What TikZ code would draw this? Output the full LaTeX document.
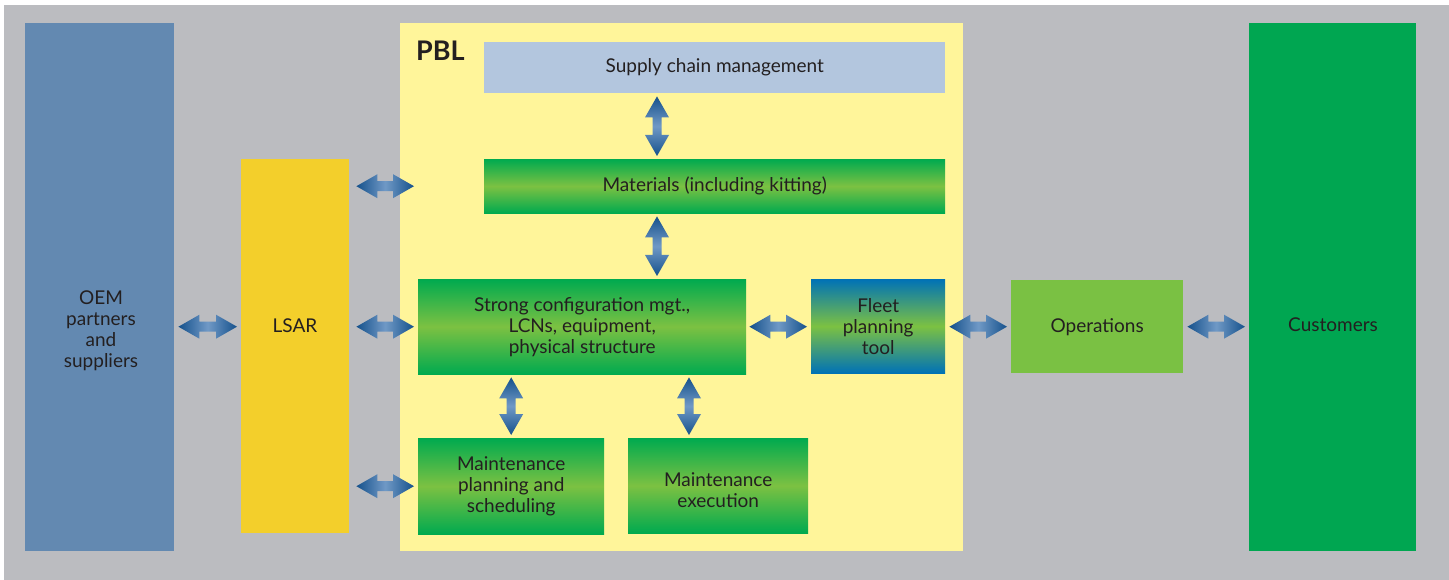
\documentclass[tikz,border=0pt]{standalone}
\usepackage{fontspec}
\setmainfont{Lato}
\usetikzlibrary{calc}
\definecolor{bgc}{HTML}{BBBCC0}
\definecolor{oemc}{HTML}{6389B1}
\definecolor{lsarc}{HTML}{F3CF2B}
\definecolor{pblc}{HTML}{FFF59A}
\definecolor{scmc}{HTML}{B3C6DE}
\definecolor{gdark}{HTML}{00AA4F}
\definecolor{glight}{HTML}{7CC142}
\definecolor{fblue}{HTML}{0072B6}
\definecolor{opsc}{HTML}{7AC143}
\definecolor{custc}{HTML}{00A651}
\definecolor{adark}{HTML}{15518C}
\definecolor{alight}{HTML}{7099C6}
\definecolor{txt}{HTML}{231F20}
\tikzset{
  box/.style={rectangle, inner sep=0pt, anchor=north west, draw=none},
  lbl/.style={inner sep=0pt, align=center, text=txt, font=\fontsize{19}{21}\selectfont},
  greenbox/.style={box, top color=gdark, bottom color=gdark, middle color=glight},
  fleetbox/.style={box, top color=fblue, bottom color=fblue, middle color=glight},
  hshade/.style={left color=adark, right color=adark, middle color=alight},
  vshade/.style={top color=adark, bottom color=adark, middle color=alight},
}
\newcommand\harrow[2]{%
  \path[hshade] let \p1=#1, \p2=#2 in
  (\x1,\y1) -- (\x1+21pt,\y1+12pt) -- (\x1+21pt,\y1+5pt) -- (\x2-21pt,\y1+5pt) -- (\x2-21pt,\y1+12pt)
  -- (\x2,\y1) -- (\x2-21pt,\y1-12pt) -- (\x2-21pt,\y1-5pt) -- (\x1+21pt,\y1-5pt) -- (\x1+21pt,\y1-12pt) -- cycle;}
\newcommand\varrow[2]{%
  \path[vshade] let \p1=#1, \p2=#2 in
  (\x1,\y1) -- (\x1+12pt,\y1-21pt) -- (\x1+4.5pt,\y1-21pt) -- (\x1+4.5pt,\y2+21pt) -- (\x1+12pt,\y2+21pt)
  -- (\x1,\y2) -- (\x1-12pt,\y2+21pt) -- (\x1-4.5pt,\y2+21pt) -- (\x1-4.5pt,\y1-21pt) -- (\x1-12pt,\y1-21pt) -- cycle;}
\begin{document}
\begin{tikzpicture}[x=1pt,y=-1pt]
\useasboundingbox (0,0) rectangle (1449,580);
\fill[white] (0,0) rectangle (1449,580);
\fill[bgc] (4,5) rectangle (1449,580);
% main boxes
\node[box, fill=oemc, minimum width=149pt, minimum height=528pt] (oem) at (25,23) {};
\node[box, fill=lsarc, minimum width=108pt, minimum height=374pt] (lsar) at (241,159) {};
\node[box, fill=pblc, minimum width=563pt, minimum height=528pt] (pbl) at (400,23) {};
\node[box, fill=custc, minimum width=167pt, minimum height=528pt] (cust) at (1249,23) {};
\node[box, fill=scmc, minimum width=461pt, minimum height=51pt] (scm) at (484,42) {};
\node[greenbox, minimum width=461pt, minimum height=54pt] (mat) at (484,159) {};
\node[greenbox, minimum width=328pt, minimum height=95pt] (strong) at (418,279) {};
\node[fleetbox, minimum width=134pt, minimum height=94pt] (fleet) at (811,279) {};
\node[box, fill=opsc, minimum width=172pt, minimum height=93pt] (ops) at (1011,280) {};
\node[greenbox, minimum width=186pt, minimum height=96pt] (mplan) at (418,438) {};
\node[greenbox, minimum width=180pt, minimum height=95pt] (mexec) at (628,438) {};
% labels
\node[lbl, text=txt, font=\bfseries\fontsize{27}{30}\selectfont, anchor=west] (pblt) at (416,51) {PBL};
\node[lbl] (oemt) at (101,331) {OEM\\partners\\and\\suppliers};
\node[lbl] (lsart) at (295,326) {LSAR};
\node[lbl] (custt) at (1333,325) {Customers};
\node[lbl] (scmt) at (scm.center) {Supply chain management};
\node[lbl] (matt) at (mat.center) {Materials (including kitting)};
\node[lbl] (strongt) at (strong.center) {Strong configuration mgt.,\\LCNs, equipment,\\physical structure};
\node[lbl] (fleett) at (fleet.center) {Fleet\\planning\\tool};
\node[lbl] (opst) at (ops.center) {Operations};
\node[lbl] (mplant) at (mplan.center) {Maintenance\\planning and\\scheduling};
\node[lbl] (mexect) at ($(mexec.center)+(0,4)$) {Maintenance\\execution};
% horizontal arrows
\harrow{($(oem.east |- strong.west)+(4,0)$)}{($(lsar.west |- strong.west)+(-4,0)$)}
\harrow{($(lsar.east |- strong.west)+(7,0)$)}{($(strong.west)+(-4,0)$)}
\harrow{($(lsar.east |- mat.west)+(7,0)$)}{($(strong.west |- mat.west)+(-4,0)$)}
\harrow{($(lsar.east |- mplan.west)+(7,0)$)}{($(mplan.west)+(-4,0)$)}
\harrow{($(strong.east)+(3,0)$)}{($(fleet.west |- strong.east)+(-4,0)$)}
\harrow{($(fleet.east |- strong.east)+(4,0)$)}{($(ops.west |- strong.east)+(-4,0)$)}
\harrow{($(ops.east |- strong.east)+(4,0)$)}{($(cust.west |- strong.east)+(-4,0)$)}
% vertical arrows
\varrow{($(scm.south west)+(173,3)$)}{($(mat.north west)+(173,-3)$)}
\varrow{($(mat.south west)+(173,3)$)}{($(strong.north west)+(239,-3)$)}
\varrow{($(strong.south -| mplan.north)+(0,3)$)}{($(mplan.north)+(0,-3)$)}
\varrow{($(strong.south west)+(271,3)$)}{($(mexec.north west)+(61,-3)$)}
\end{tikzpicture}
\end{document}
